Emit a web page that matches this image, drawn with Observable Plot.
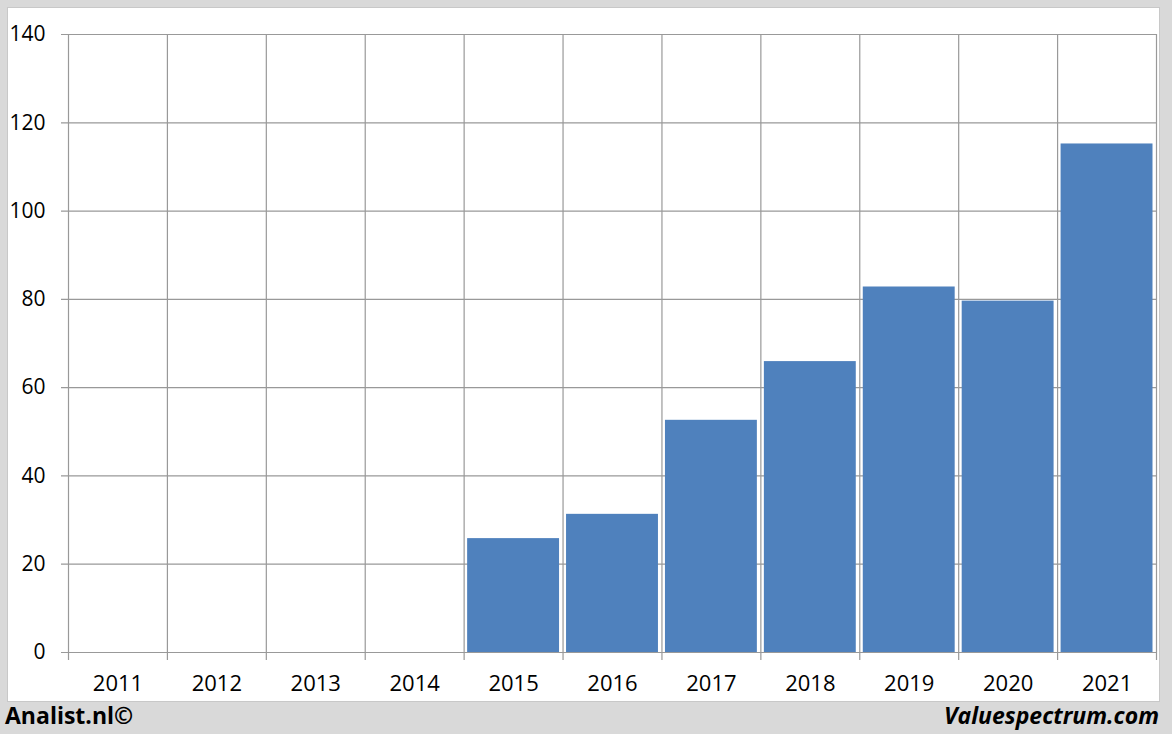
<!DOCTYPE html>
<html>
<head>
<meta charset="utf-8">
<script src="https://cdn.jsdelivr.net/npm/d3@7"></script>
<script src="https://cdn.jsdelivr.net/npm/@observablehq/plot@0.6"></script>
<style>
  html, body { margin: 0; padding: 0; }
  body { width: 1172px; height: 734px; background: #d9d9d9; position: relative; overflow: hidden; font-family: "Open Sans", sans-serif; }
  #panel { position: absolute; left: 7px; top: 7px; width: 1153px; height: 695px; background: #fff; border: 1px solid #c8c8c8; box-sizing: border-box; }
  #chart { position: absolute; left: 0; top: 0; }
  .foot { position: absolute; top: 699px; font-weight: bold; font-size: 23px; color: #000; }
  #left { left: 5px; }
  #right { right: 13px; font-style: italic; }
</style>
</head>
<body>
<div id="panel"></div>
<div id="chart"></div>
<div class="foot" id="left">Analist.nl©</div>
<div class="foot" id="right">Valuespectrum.com</div>
<script>
const years = [2011, 2012, 2013, 2014, 2015, 2016, 2017, 2018, 2019, 2020, 2021];
const values = [null, null, null, null, 25.8, 31.3, 52.6, 65.9, 82.8, 79.6, 115.2];
const yTicks = [0, 20, 40, 60, 80, 100, 120, 140];

const data = years.map((y, i) => ({year: y, value: values[i]})).filter(d => d.value != null);
const edges = years.map(y => y - 0.5).concat([years[years.length - 1] + 0.5]);

const chart = Plot.plot({
  width: 1172,
  height: 702,
  marginLeft: 68,
  marginRight: 16,
  marginTop: 34,
  marginBottom: 50,
  style: {background: "transparent", fontFamily: "'Open Sans', sans-serif", fontSize: "20px", color: "#000"},
  x: {type: "linear", domain: [years[0] - 0.5, years[years.length - 1] + 0.5]},
  y: {domain: [0, 140]},
  marks: [
    Plot.ruleY(yTicks, {stroke: "#999", strokeWidth: 1.2, insetLeft: -7}),
    Plot.ruleX(edges, {stroke: "#999", strokeWidth: 1.2, insetBottom: -8}),
    Plot.rectY(data, {x1: d => d.year - 0.5, x2: d => d.year + 0.5, y1: 0, y2: "value", fill: "#4f81bd", insetLeft: 3.5, insetRight: 3.5}),
    Plot.axisY({ticks: yTicks, tickSize: 0, tickPadding: 23, fontSize: 21, label: null, tickFormat: d => String(d)}),
    Plot.axisX({ticks: years, tickSize: 0, tickPadding: 23, fontSize: 22, label: null, tickFormat: d => String(d)})
  ]
});
document.getElementById("chart").appendChild(chart);
</script>
</body>
</html>
